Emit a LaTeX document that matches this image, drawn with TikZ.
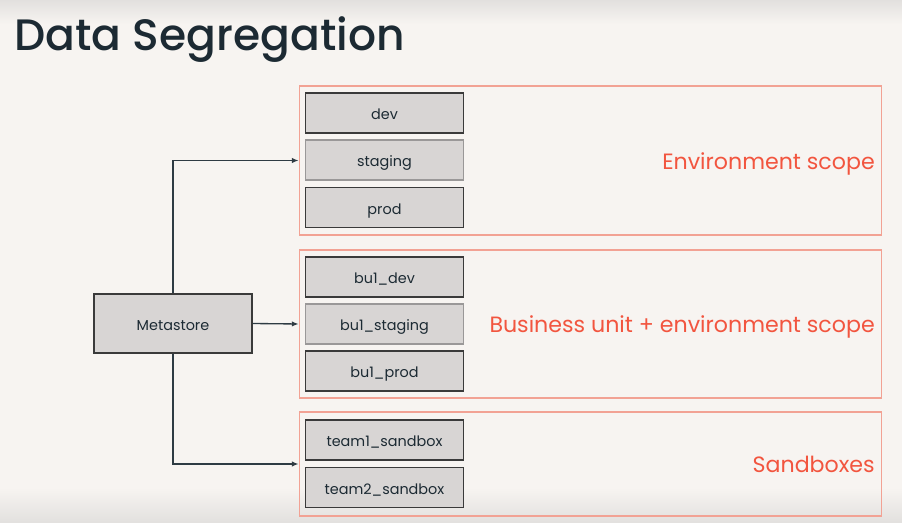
\documentclass[tikz,border=0pt]{standalone}
\usepackage{fontspec}
\setmainfont{Poppins}
\newfontfamily\headfont{Poppins Medium}
\usetikzlibrary{arrows.meta}
\definecolor{pagebg}{HTML}{F7F4F1}
\definecolor{edgeshade}{HTML}{E2E0DE}
\definecolor{ink}{HTML}{1C2A33}
\definecolor{boxfill}{HTML}{D8D5D4}
\definecolor{boxline}{HTML}{3A3A3A}
\definecolor{softline}{HTML}{9A9898}
\definecolor{frameline}{HTML}{F2A294}
\definecolor{scopered}{HTML}{F2553F}
\definecolor{wire}{HTML}{2E3B43}
\tikzset{
  dbbox/.style={draw=boxline, line width=0.9pt, fill=boxfill, text=ink,
    minimum width=118.5pt, minimum height=30pt, inner sep=0pt,
    text height=10.8pt, text depth=1pt,
    font=\fontsize{10.8pt}{13pt}\selectfont},
  softbox/.style={dbbox, draw=softline},
  scopeframe/.style={draw=frameline, line width=0.8pt, inner sep=0pt, minimum width=437pt},
  scopelabel/.style={text=scopered, anchor=base east, inner sep=0pt,
    font=\fontsize{16.6pt}{20pt}\selectfont},
  link/.style={draw=wire, line width=1pt, -{Latex[length=5pt,width=4pt]}}
}
\begin{document}
\begin{tikzpicture}[x=0.75pt,y=-0.75pt]
  % page background with soft top and bottom shading
  \fill[pagebg] (0,0) rectangle (902,523);
  \shade[top color=edgeshade, bottom color=pagebg] (0,0) rectangle (902,24);
  \shade[top color=pagebg, bottom color=edgeshade] (0,488) rectangle (902,523);
  \useasboundingbox (0,0) rectangle (902,523);

  % title
  \node[anchor=base west, inner sep=0pt, text=ink,
        font=\headfont\fontsize{33pt}{38pt}\selectfont] (title) at (14,51) {Data Segregation};

  % scope frames
  \node[scopeframe, minimum height=111.75pt] (envframe) at (590.5,160.5) {};
  \node[scopeframe, minimum height=111pt] (bizframe) at (590.5,324) {};
  \node[scopeframe, minimum height=78pt] (sandframe) at (590.5,464) {};

  % scope labels
  \node[scopelabel] (envlabel) at (875,170) {Environment scope};
  \node[scopelabel] (bizlabel) at (875,333) {Business unit + environment scope};
  \node[scopelabel] (sandlabel) at (875,472.5) {Sandboxes};

  % catalogs
  \node[dbbox] (dev) at (384.5,113) {dev};
  \node[softbox] (staging) at (384.5,160) {staging};
  \node[dbbox] (prod) at (384.5,207.5) {prod};
  \node[dbbox] (budev) at (384.5,277) {bu1\_dev};
  \node[softbox] (bustaging) at (384.5,324) {bu1\_staging};
  \node[dbbox] (buprod) at (384.5,371) {bu1\_prod};
  \node[dbbox] (team1) at (384.5,440) {team1\_sandbox};
  \node[dbbox] (team2) at (384.5,487.5) {team2\_sandbox};

  % metastore
  \node[dbbox, minimum height=44.25pt] (meta) at (173,323.5) {Metastore};

  % connectors
  \draw[link] (meta.north) |- (envframe.west);
  \draw[link] (meta.east) -- (bizframe.west);
  \draw[link] (meta.south) |- (sandframe.west);
\end{tikzpicture}
\end{document}
